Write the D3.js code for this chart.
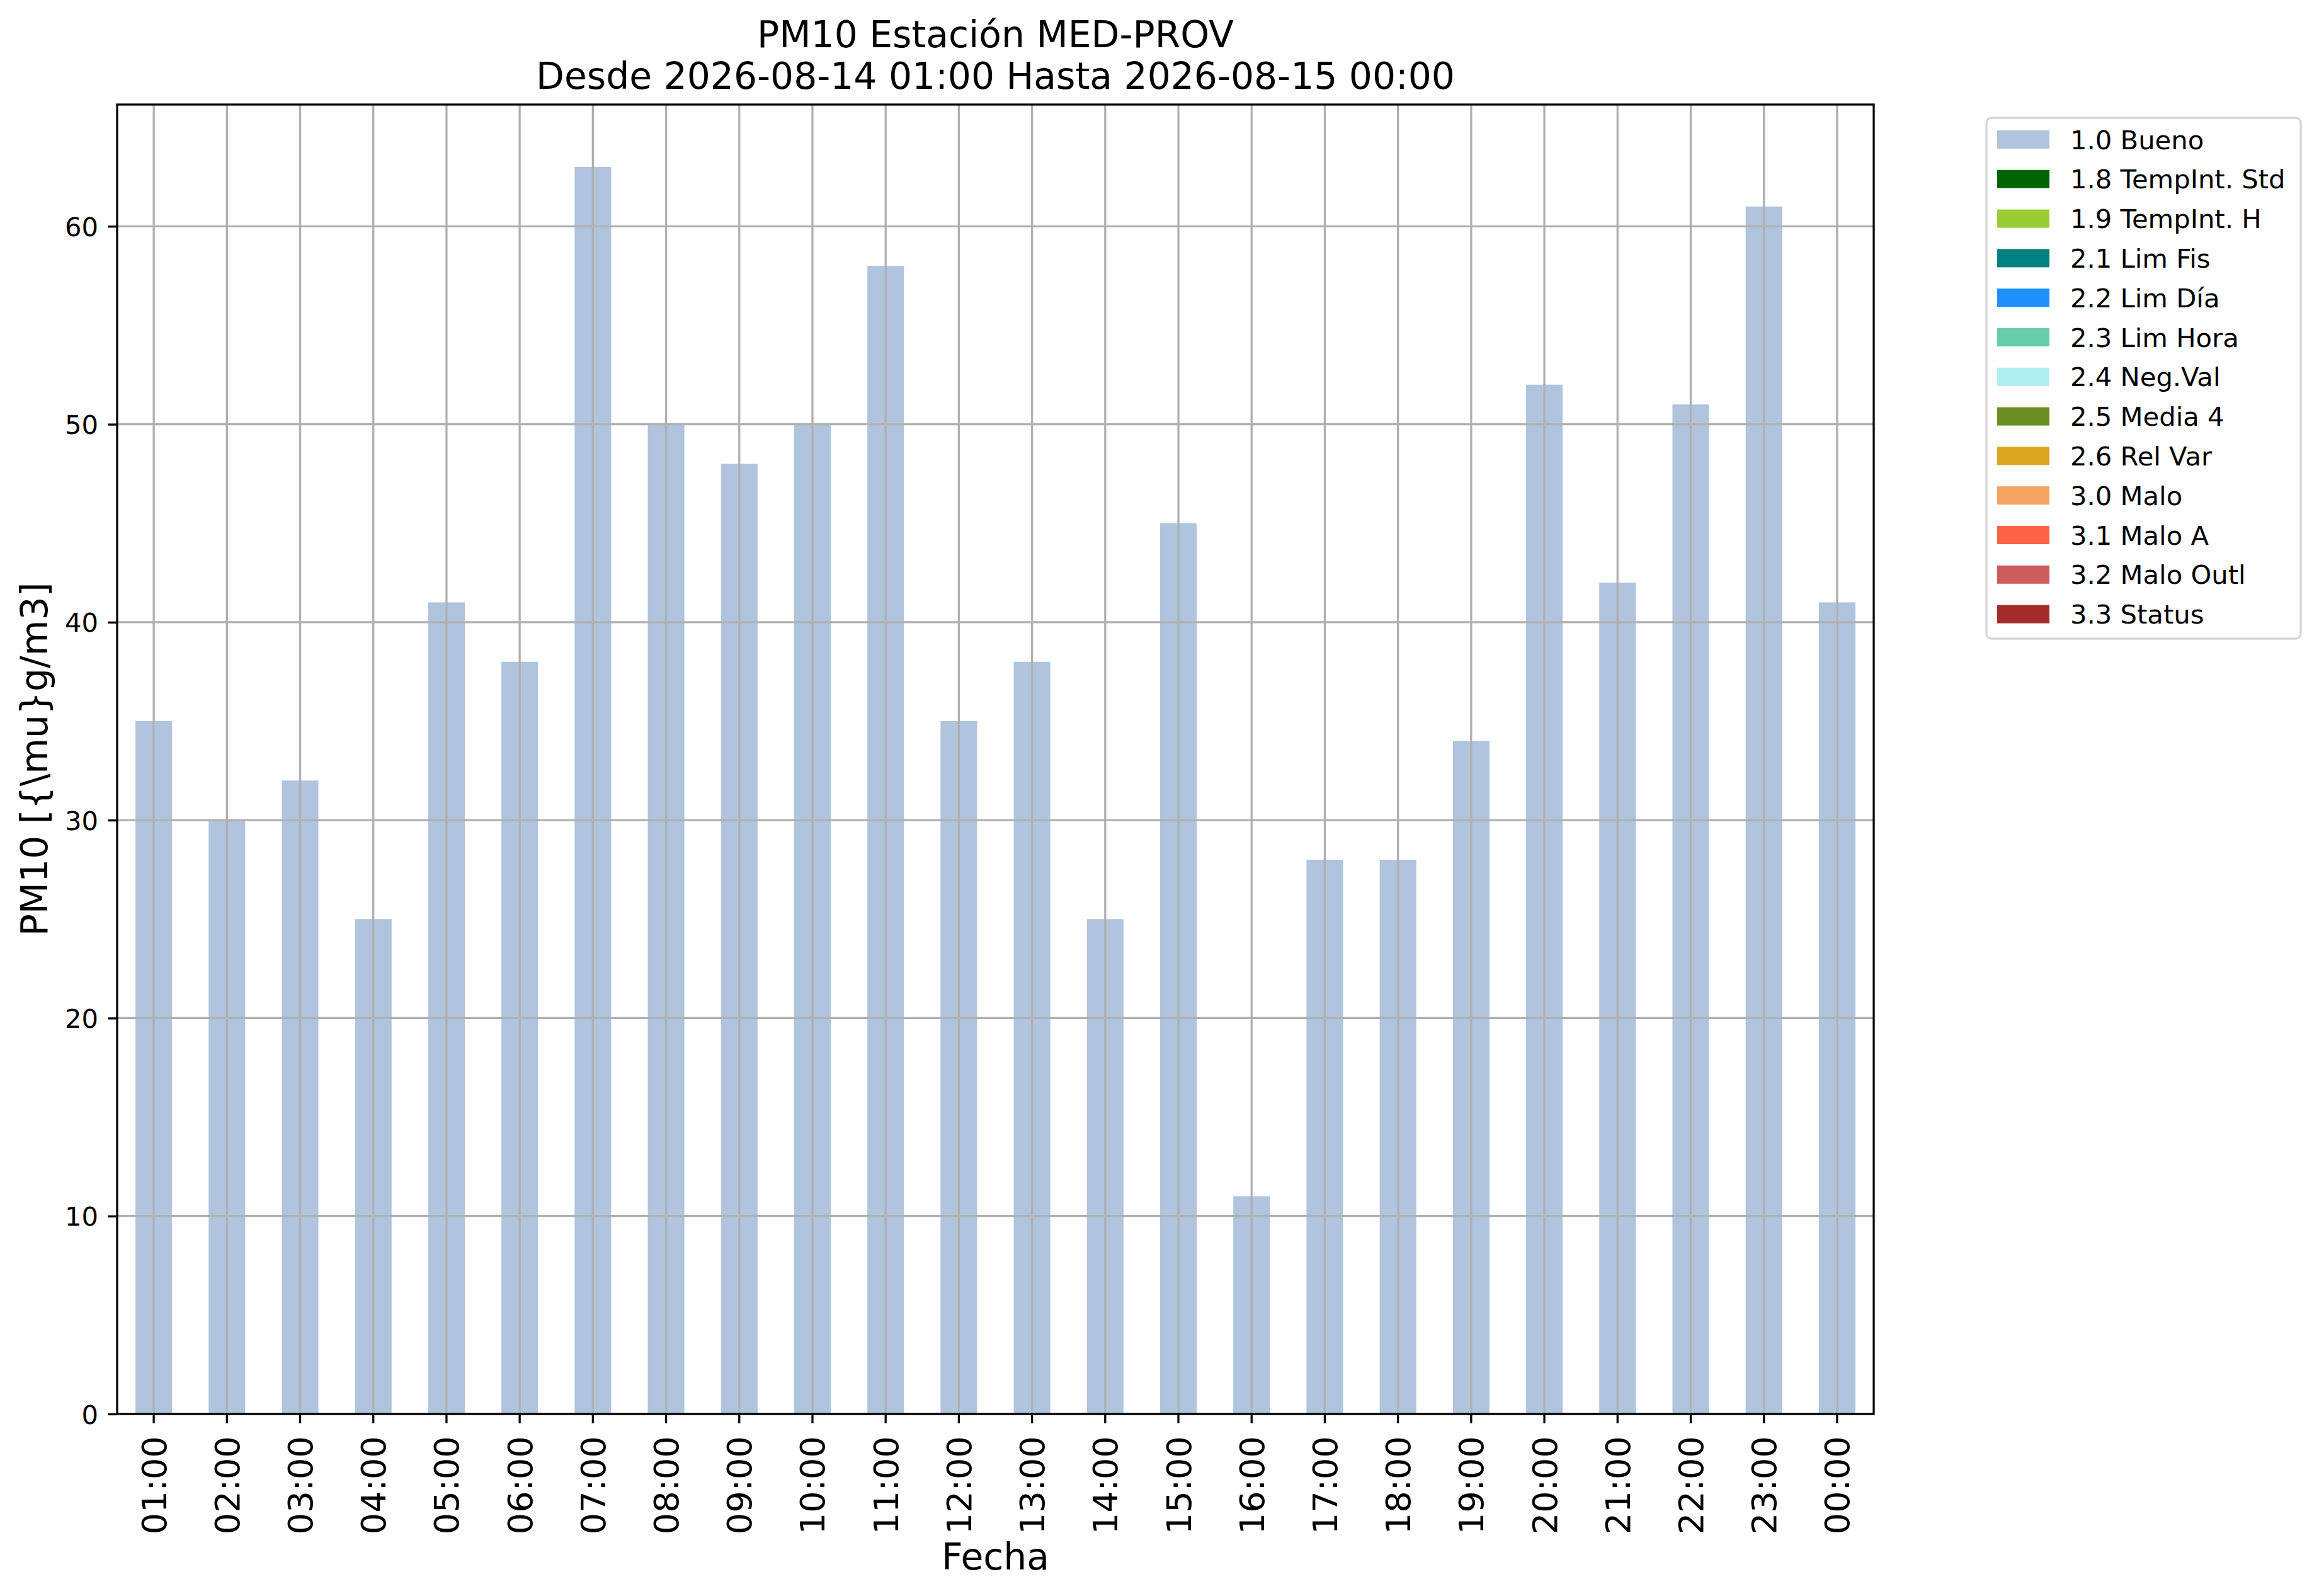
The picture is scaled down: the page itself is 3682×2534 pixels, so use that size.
<!DOCTYPE html>
<html>
<head>
<meta charset="utf-8">
<script src="https://cdn.jsdelivr.net/npm/d3@7"></script>
<style>
  body { margin: 0; background: #fff; }
  svg text { font-family: "DejaVu Sans", sans-serif; fill: #000; }
</style>
</head>
<body>
<svg id="chart"></svg>
<script>
// hourly PM10 values
const hours = ["01:00", "02:00", "03:00", "04:00", "05:00", "06:00", "07:00", "08:00",
  "09:00", "10:00", "11:00", "12:00", "13:00", "14:00", "15:00", "16:00",
  "17:00", "18:00", "19:00", "20:00", "21:00", "22:00", "23:00", "00:00"];
const pm10 = [35, 30, 32, 25, 41, 38, 63, 50, 48, 50, 58, 35,
  38, 25, 45, 11, 28, 28, 34, 52, 42, 51, 61, 41];
const yTicks = [0, 10, 20, 30, 40, 50, 60];

// quality flag legend
const flagLabels = ["1.0 Bueno", "1.8 TempInt. Std", "1.9 TempInt. H", "2.1 Lim Fis",
  "2.2 Lim Día", "2.3 Lim Hora", "2.4 Neg.Val", "2.5 Media 4", "2.6 Rel Var",
  "3.0 Malo", "3.1 Malo A", "3.2 Malo Outl", "3.3 Status"];
const flagColors = ["#b0c4de", "#006400", "#9acd32", "#008080", "#1e90ff", "#66cdaa",
  "#afeeee", "#6b8e23", "#daa520", "#f4a460", "#ff6347", "#cd5c5c", "#a52a2a"];

const titleLines = ["PM10 Estación MED-PROV", "Desde 2026-08-14 01:00 Hasta 2026-08-15 00:00"];

const W = 3682, H = 2534;
const margin = { top: 166, right: 707, bottom: 289, left: 186 };
const width = W - margin.left - margin.right;
const height = H - margin.top - margin.bottom;
const lw = 3.3;

const svg = d3.select("#chart").attr("width", W).attr("height", H);

const chart = svg.append("g")
  .attr("transform", `translate(${margin.left},${margin.top})`);

const xScale = d3.scaleBand()
  .domain(hours)
  .range([0, width])
  .paddingInner(0.5)
  .paddingOuter(0.25);

const yScale = d3.scaleLinear()
  .domain([0, d3.max(pm10) * 1.05])
  .range([height, 0]);

// bars
chart.selectAll(".bar")
  .data(hours)
  .join("rect")
  .attr("class", "bar")
  .attr("x", (d) => xScale(d))
  .attr("y", (d, i) => yScale(pm10[i]))
  .attr("width", xScale.bandwidth())
  .attr("height", (d, i) => yScale(0) - yScale(pm10[i]))
  .attr("fill", flagColors[0]);

// grid on top of bars
chart.append("g")
  .selectAll("line")
  .data(hours)
  .join("line")
  .attr("x1", (d) => xScale(d) + xScale.bandwidth() / 2)
  .attr("x2", (d) => xScale(d) + xScale.bandwidth() / 2)
  .attr("y1", 0)
  .attr("y2", height)
  .attr("stroke", "#b0b0b0")
  .attr("stroke-width", lw);

chart.append("g")
  .selectAll("line")
  .data(yTicks)
  .join("line")
  .attr("x1", 0)
  .attr("x2", width)
  .attr("y1", (d) => yScale(d))
  .attr("y2", (d) => yScale(d))
  .attr("stroke", "#b0b0b0")
  .attr("stroke-width", lw);

// axes
const xAxis = d3.axisBottom(xScale).tickSize(14.6).tickPadding(0);
const yAxis = d3.axisLeft(yScale).tickValues(yTicks).tickSize(14.6).tickPadding(0);

const xAxisGroup = chart.append("g")
  .attr("transform", `translate(0,${height})`)
  .call(xAxis);
xAxisGroup.select(".domain").remove();
xAxisGroup.selectAll(".tick line").attr("stroke", "#000").attr("stroke-width", lw);
xAxisGroup.selectAll(".tick text")
  .attr("transform", "rotate(-90)")
  .attr("x", -35)
  .attr("y", 0)
  .attr("dy", "0.36em")
  .attr("text-anchor", "end")
  .style("font-size", "54.2px");

const yAxisGroup = chart.append("g").call(yAxis);
yAxisGroup.select(".domain").remove();
yAxisGroup.selectAll(".tick line").attr("stroke", "#000").attr("stroke-width", lw);
yAxisGroup.selectAll(".tick text")
  .attr("x", -30)
  .attr("dy", "0.36em")
  .attr("text-anchor", "end")
  .style("font-size", "41.7px");

// frame
chart.append("rect")
  .attr("x", 0)
  .attr("y", 0)
  .attr("width", width)
  .attr("height", height)
  .attr("fill", "none")
  .attr("stroke", "#000")
  .attr("stroke-width", lw);

// title
svg.append("g")
  .selectAll("text")
  .data(titleLines)
  .join("text")
  .attr("x", margin.left + width / 2)
  .attr("y", (d, i) => 75 + i * 66)
  .attr("text-anchor", "middle")
  .style("font-size", "58.3px")
  .text((d) => d);

// axis labels
svg.append("text")
  .attr("x", margin.left + width / 2)
  .attr("y", 2492)
  .attr("text-anchor", "middle")
  .style("font-size", "58.3px")
  .text("Fecha");

svg.append("text")
  .attr("transform", `translate(75,${margin.top + height / 2}) rotate(-90)`)
  .attr("text-anchor", "middle")
  .style("font-size", "58.3px")
  .text("PM10 [{\\mu}g/m3]");

// legend
const legend = svg.append("g").attr("class", "legend");
legend.append("rect")
  .attr("x", 3154)
  .attr("y", 187)
  .attr("width", 499)
  .attr("height", 827)
  .attr("rx", 8)
  .attr("fill", "#fff")
  .attr("stroke", "#d6d6d6")
  .attr("stroke-width", lw);

const rowSpacing = 62.8;
const legendItems = legend.selectAll(".legend-item")
  .data(flagLabels)
  .join("g")
  .attr("class", "legend-item")
  .attr("transform", (d, i) => `translate(3171, ${221.5 + i * rowSpacing})`);

legendItems.append("rect")
  .attr("x", 0)
  .attr("y", -14.5)
  .attr("width", 83)
  .attr("height", 29)
  .attr("fill", (d, i) => flagColors[i]);

legendItems.append("text")
  .attr("x", 116)
  .attr("dy", "0.36em")
  .style("font-size", "41.7px")
  .text((d) => d);
</script>
</body>
</html>
